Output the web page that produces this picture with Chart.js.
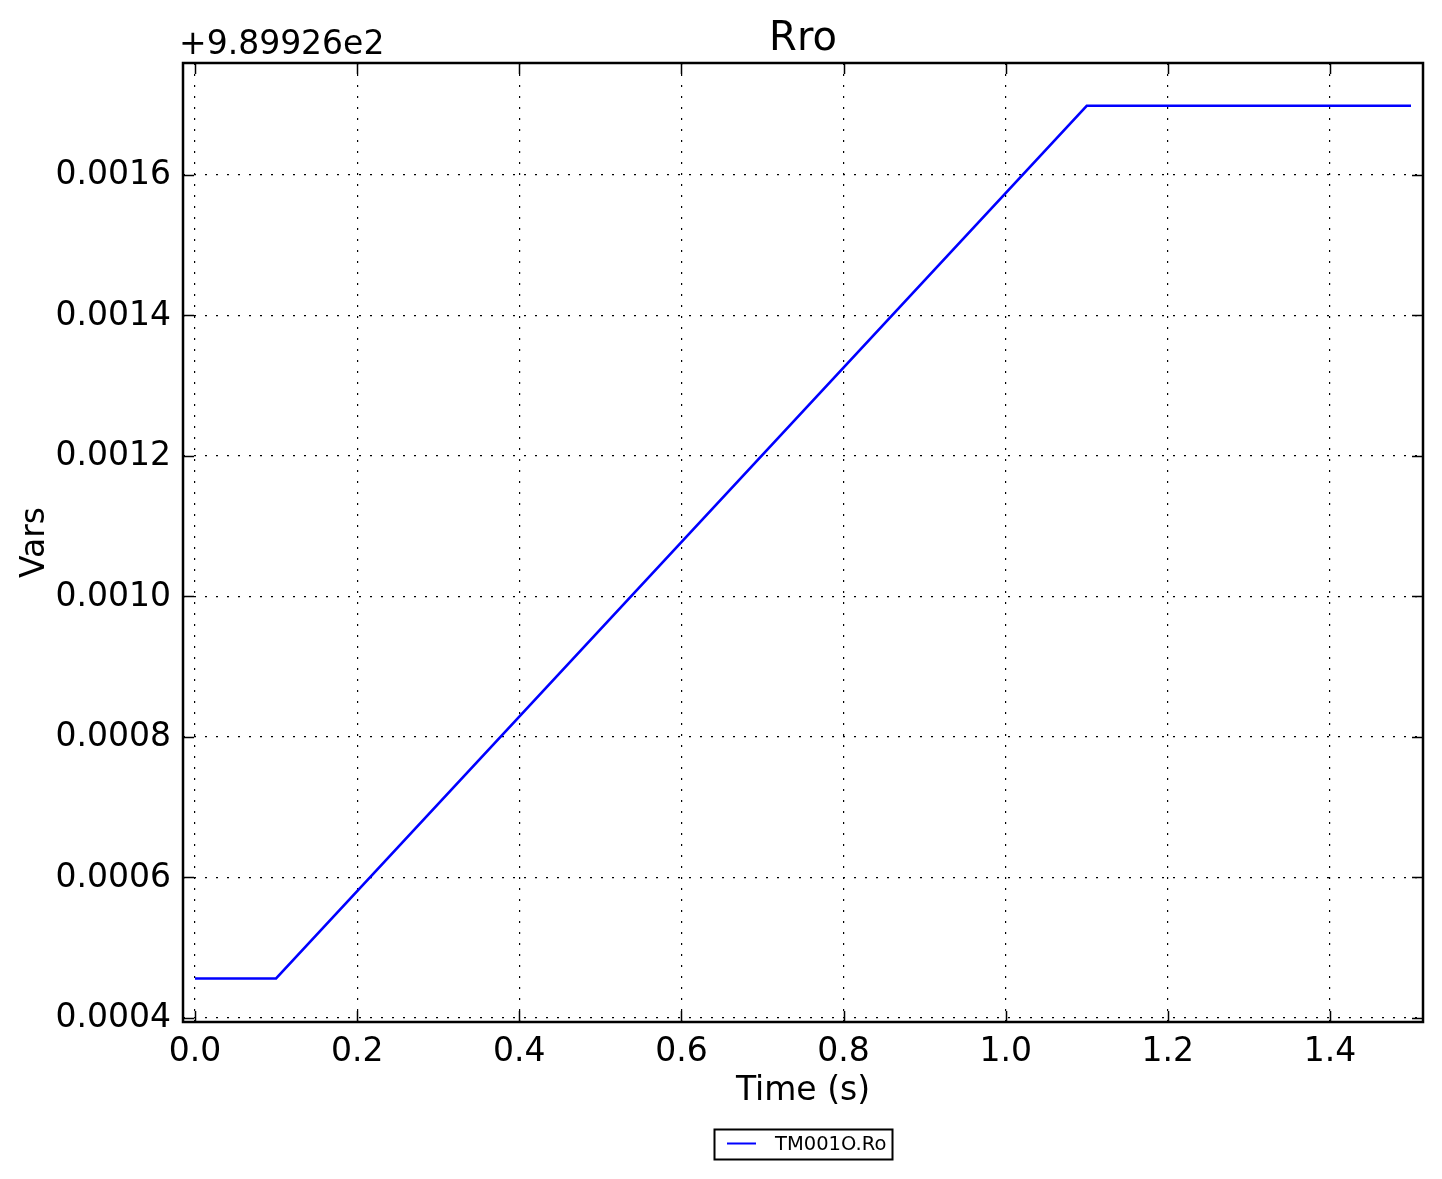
<!DOCTYPE html>
<html>
<head>
<meta charset="utf-8">
<script src="https://cdn.jsdelivr.net/npm/chart.js@4.4.1/dist/chart.umd.min.js"></script>
<style>
  html, body { margin: 0; padding: 0; background: #fff; }
  #wrap { width: 1442px; height: 1179px; }
</style>
</head>
<body>
<div id="wrap"><canvas id="rroChart" width="1442" height="1179"></canvas></div>
<script>
// series: time (s) and value relative to the axis offset
const timeValues = [0.0, 0.1, 1.1, 1.5];
const rroValues = [0.000456, 0.000456, 0.001698, 0.001698];
const seriesLabel = 'TM001O.Ro';
const offsetText = '+9.89926e2';

const xTicks = [0.0, 0.2, 0.4, 0.6, 0.8, 1.0, 1.2, 1.4];
const yTicks = [0.0004, 0.0006, 0.0008, 0.0010, 0.0012, 0.0014, 0.0016];

const FONT = 'DejaVu Sans, sans-serif';

// matplotlib-ish frame: inward ticks on all sides, titles, legend box
const decorations = {
    id: 'decorations',
    afterDraw(chart) {
        const ctx = chart.ctx;
        const a = chart.chartArea;
        const xs = chart.scales.x, ys = chart.scales.y;
        ctx.save();
        ctx.strokeStyle = '#000';
        ctx.lineWidth = 1.5;
        const len = 11;
        xTicks.forEach(v => {
            const px = Math.round(xs.getPixelForValue(v)) + 0.5;
            ctx.beginPath();
            ctx.moveTo(px, a.bottom); ctx.lineTo(px, a.bottom - len);
            ctx.moveTo(px, a.top); ctx.lineTo(px, a.top + len);
            ctx.stroke();
        });
        yTicks.forEach(v => {
            const py = Math.round(ys.getPixelForValue(v)) + 0.5;
            ctx.beginPath();
            ctx.moveTo(a.left, py); ctx.lineTo(a.left + len, py);
            ctx.moveTo(a.right, py); ctx.lineTo(a.right - len, py);
            ctx.stroke();
        });
        // frame
        ctx.lineWidth = 2.5;
        ctx.strokeRect(a.left, a.top, a.right - a.left, a.bottom - a.top);

        ctx.fillStyle = '#000';
        // title
        ctx.font = '40px ' + FONT;
        ctx.textAlign = 'center';
        ctx.textBaseline = 'middle';
        ctx.fillText('Rro', (a.left + a.right) / 2, 40);
        // offset text
        ctx.font = '33px ' + FONT;
        ctx.textAlign = 'left';
        ctx.fillText(offsetText, 179, 45);
        // x axis title
        ctx.textAlign = 'center';
        ctx.fillText('Time (s)', (a.left + a.right) / 2, 1091);
        // y axis title
        ctx.save();
        ctx.translate(35, (a.top + a.bottom) / 2);
        ctx.rotate(-Math.PI / 2);
        ctx.fillText('Vars', 0, 0);
        ctx.restore();

        // legend
        ctx.lineWidth = 2;
        ctx.strokeRect(714.5, 1129.5, 178, 30);
        ctx.strokeStyle = '#0000ff';
        ctx.lineWidth = 2;
        ctx.beginPath();
        ctx.moveTo(727, 1143.5); ctx.lineTo(756, 1143.5);
        ctx.stroke();
        ctx.font = '19.5px ' + FONT;
        ctx.textAlign = 'left';
        ctx.fillText(seriesLabel, 775, 1145);
        ctx.restore();
    }
};

new Chart(document.getElementById('rroChart'), {
    type: 'line',
    data: {
        datasets: [{
            label: seriesLabel,
            data: timeValues.map((t, i) => ({ x: t, y: rroValues[i] })),
            borderColor: '#0000ff',
            borderWidth: 2.5,
            pointRadius: 0,
            fill: false,
            tension: 0
        }]
    },
    options: {
        responsive: false,
        animation: false,
        layout: { padding: { top: 63, right: 19, left: 0, bottom: 0 } },
        plugins: {
            legend: { display: false },
            title: { display: false },
            tooltip: { enabled: false }
        },
        scales: {
            x: {
                type: 'linear',
                min: -0.0148,
                max: 1.5148,
                afterBuildTicks: s => { s.ticks = xTicks.map(v => ({ value: v })); },
                afterFit: s => { s.height = 157; },
                border: { display: false, dash: [2, 9] },
                grid: { color: '#000', lineWidth: 1.2, drawTicks: false },
                ticks: {
                    padding: 11,
                    color: '#000',
                    font: { family: FONT, size: 33 },
                    maxRotation: 0,
                    autoSkip: false,
                    callback: v => Number(v).toFixed(1)
                }
            },
            y: {
                type: 'linear',
                min: 0.000394,
                max: 0.001759,
                afterBuildTicks: s => { s.ticks = yTicks.map(v => ({ value: v })); },
                afterFit: s => { s.width = 183; },
                border: { display: false, dash: [2, 9] },
                grid: { color: '#000', lineWidth: 1.2, drawTicks: false },
                ticks: {
                    padding: 12,
                    labelOffset: 1,
                    color: '#000',
                    font: { family: FONT, size: 33 },
                    autoSkip: false,
                    callback: v => Number(v).toFixed(4)
                }
            }
        }
    },
    plugins: [decorations]
});
</script>
</body>
</html>
